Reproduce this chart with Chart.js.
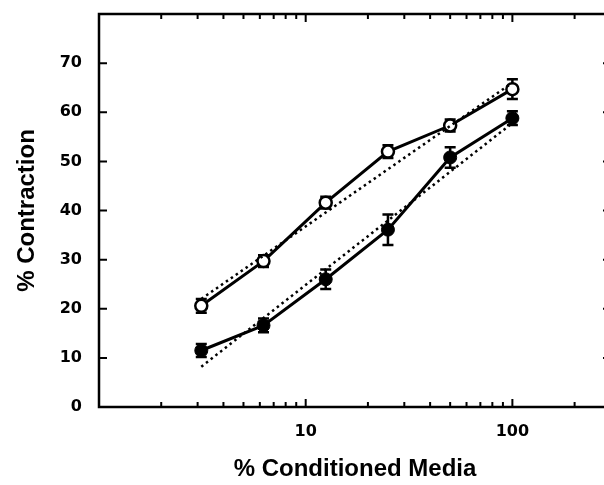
<!DOCTYPE html>
<html>
<head>
<meta charset="utf-8">
<script src="https://cdn.jsdelivr.net/npm/chart.js@4.4.1/dist/chart.umd.min.js"></script>
<style>
    html, body { margin: 0; padding: 0; background: #fff; overflow: hidden; width: 604px; height: 485px; }
    #chart { display: block; }
</style>
</head>
<body>
<canvas id="chart" width="620" height="485"></canvas>
<script>
'use strict';

// doubling dilutions of conditioned media (%)
const doses = [3.125, 6.25, 12.5, 25, 50, 100];
const openMeans = [20.6, 29.7, 41.6, 52.0, 57.3, 64.7];
const openErrors = [1.4, 1.2, 1.2, 1.3, 1.2, 2.0];
const filledMeans = [11.5, 16.6, 26.0, 36.1, 50.8, 58.8];
const filledErrors = [1.3, 1.4, 2.0, 3.1, 2.1, 1.4];

// regression (dotted) lines, end points
const fitDoses = [3.125, 100];
const openFit = [22.0, 66.0];
const filledFit = [8.2, 57.8];

const xTickValues = [1, 2, 3, 4, 5, 6, 7, 8, 9, 10, 20, 30, 40, 50, 60, 70, 80, 90, 100, 200, 300];
const xTickLabels = [10, 100];
const yTickValues = [0, 10, 20, 30, 40, 50, 60, 70, 80];
const yTickLabels = [0, 10, 20, 30, 40, 50, 60, 70];

function toPoints(xs, ys) {
    return xs.map((x, i) => ({ x: x, y: ys[i] }));
}

const tickFont = { family: 'DejaVu Sans', weight: 'bold', size: 16 };
const titleFont = { family: 'Liberation Sans', weight: 'bold', size: 24 };

// error bars, drawn under the markers
const errorBarPlugin = {
    id: 'errorBars',
    beforeDatasetsDraw(chart) {
        const ctx = chart.ctx;
        const xs = chart.scales.x;
        const ys = chart.scales.y;
        ctx.save();
        ctx.strokeStyle = '#000';
        ctx.lineWidth = 2.5;
        chart.data.datasets.forEach(ds => {
            if (!ds.errors) return;
            ds.data.forEach((p, i) => {
                const px = xs.getPixelForValue(p.x);
                const top = ys.getPixelForValue(p.y + ds.errors[i]);
                const bot = ys.getPixelForValue(p.y - ds.errors[i]);
                ctx.beginPath();
                ctx.moveTo(px, top); ctx.lineTo(px, bot);
                ctx.moveTo(px - 5.5, top); ctx.lineTo(px + 5.5, top);
                ctx.moveTo(px - 5.5, bot); ctx.lineTo(px + 5.5, bot);
                ctx.stroke();
            });
        });
        ctx.restore();
    }
};

// box frame with inward ticks on all four sides
const framePlugin = {
    id: 'frame',
    afterDraw(chart) {
        const ctx = chart.ctx;
        const a = chart.chartArea;
        const xs = chart.scales.x;
        const ys = chart.scales.y;
        ctx.save();
        ctx.strokeStyle = '#000';
        ctx.lineWidth = 2.5;
        ctx.strokeRect(a.left, a.top, a.right - a.left, a.bottom - a.top);
        ctx.lineWidth = 2;
        ctx.beginPath();
        xs.ticks.forEach(t => {
            const px = xs.getPixelForValue(t.value);
            const len = xTickLabels.includes(t.value) ? 8 : 5;
            ctx.moveTo(px, a.bottom); ctx.lineTo(px, a.bottom - len);
            ctx.moveTo(px, a.top); ctx.lineTo(px, a.top + len);
        });
        ys.ticks.forEach(t => {
            const py = ys.getPixelForValue(t.value);
            ctx.moveTo(a.left, py); ctx.lineTo(a.left + 8, py);
            ctx.moveTo(a.right, py); ctx.lineTo(a.right - 8, py);
        });
        ctx.stroke();
        ctx.restore();
    }
};

new Chart(document.getElementById('chart'), {
    type: 'line',
    data: {
        datasets: [
            {
                label: 'fit open',
                data: toPoints(fitDoses, openFit),
                borderColor: '#000',
                borderWidth: 2.5,
                borderDash: [2.5, 3.5],
                pointRadius: 0
            },
            {
                label: 'fit filled',
                data: toPoints(fitDoses, filledFit),
                borderColor: '#000',
                borderWidth: 2.5,
                borderDash: [2.5, 3.5],
                pointRadius: 0
            },
            {
                label: 'open',
                data: toPoints(doses, openMeans),
                errors: openErrors,
                borderColor: '#000',
                borderWidth: 3,
                pointRadius: 6,
                pointBorderWidth: 2.5,
                pointBackgroundColor: '#fff',
                pointBorderColor: '#000'
            },
            {
                label: 'filled',
                data: toPoints(doses, filledMeans),
                errors: filledErrors,
                borderColor: '#000',
                borderWidth: 3,
                pointRadius: 6.5,
                pointBorderWidth: 1,
                pointBackgroundColor: '#000',
                pointBorderColor: '#000'
            }
        ]
    },
    options: {
        responsive: false,
        animation: false,
        layout: { padding: { top: 14, right: 9, left: 0, bottom: 0 } },
        plugins: {
            legend: { display: false },
            tooltip: { enabled: false }
        },
        scales: {
            x: {
                type: 'logarithmic',
                min: 1,
                max: 300,
                afterBuildTicks: s => { s.ticks = xTickValues.map(v => ({ value: v })); },
                afterFit: s => { s.height = 78; s.paddingLeft = 0; s.paddingRight = 0; },
                grid: { display: false, drawTicks: false },
                border: { display: false },
                ticks: {
                    autoSkip: false,
                    maxRotation: 0,
                    padding: 15,
                    color: '#000',
                    font: tickFont,
                    callback: v => xTickLabels.includes(v) ? String(v) : ''
                },
                title: {
                    display: true,
                    text: '% Conditioned Media',
                    color: '#000',
                    font: titleFont,
                    padding: { top: 0, bottom: 1 }
                }
            },
            y: {
                min: 0,
                max: 80,
                afterBuildTicks: s => { s.ticks = yTickValues.map(v => ({ value: v })); },
                afterFit: s => { s.width = 99; s.paddingTop = 0; s.paddingBottom = 0; },
                grid: { display: false, drawTicks: false },
                border: { display: false },
                ticks: {
                    padding: 17,
                    color: '#000',
                    font: tickFont,
                    callback: v => yTickLabels.includes(v) ? String(v) : ''
                },
                title: {
                    display: true,
                    text: '% Contraction',
                    color: '#000',
                    font: titleFont,
                    padding: { top: 13, bottom: 0 }
                }
            }
        }
    },
    plugins: [errorBarPlugin, framePlugin]
});
</script>
</body>
</html>
